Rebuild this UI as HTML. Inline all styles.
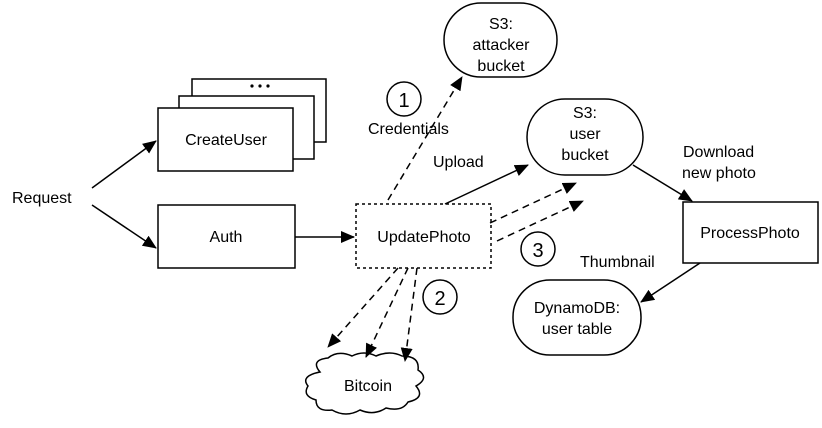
<!DOCTYPE html>
<html><head><style>
body{margin:0;background:#fff;}
svg text{font-family:"Liberation Sans",sans-serif;font-size:16px;fill:#000;}
</style></head><body>
<svg width="822" height="423" viewBox="0 0 822 423" xmlns="http://www.w3.org/2000/svg">
<defs>
<marker id="a" markerWidth="14" markerHeight="12" refX="13" refY="6" orient="auto" markerUnits="userSpaceOnUse">
<path d="M0,0 L14,6 L0,12 z" fill="#000"/></marker>
</defs>
<g fill="#fff" stroke="#000" stroke-width="1.5">
<rect x="192" y="79" width="134" height="63"/>
<rect x="179" y="96" width="135" height="63"/>
<rect x="158" y="108" width="135" height="63"/>
<rect x="158" y="205" width="137" height="63"/>
<rect x="356" y="204" width="135" height="64" stroke-dasharray="3,3"/>
<rect x="444" y="3" width="113" height="74" rx="37"/>
<rect x="527" y="99" width="116" height="76" rx="38"/>
<rect x="683" y="202" width="135" height="61"/>
<rect x="513" y="280" width="128" height="75" rx="37"/>
<circle cx="404" cy="99" r="17"/>
<circle cx="440" cy="297" r="17"/>
<circle cx="538" cy="249" r="17"/>
<path d="M320,372 q-10,-12 8,-14 q10,-8 24,-2 q12,-6 24,0 q14,-6 26,0 q18,0 16,14 q12,8 -2,16 q10,12 -8,16 q-6,10 -22,6 q-12,8 -26,2 q-14,8 -28,0 q-16,2 -16,-10 q-14,-4 -8,-14 q-8,-10 12,-14z"/>
</g>
<g fill="#000"><circle cx="252" cy="86" r="1.6"/><circle cx="260" cy="86" r="1.6"/><circle cx="268" cy="86" r="1.6"/></g>
<g stroke="#000" stroke-width="1.5" fill="none" marker-end="url(#a)">
<line x1="92" y1="188" x2="156" y2="141"/>
<line x1="92" y1="205" x2="156" y2="248"/>
<line x1="295" y1="237" x2="354" y2="237"/>
<line x1="445" y1="204" x2="528" y2="165"/>
<line x1="633" y1="165" x2="692" y2="201"/>
<line x1="700" y1="263" x2="641" y2="302"/>
<g stroke-dasharray="7,5">
<line x1="388" y1="200" x2="462" y2="77"/>
<line x1="490" y1="223" x2="576" y2="183"/>
<line x1="497" y1="241" x2="583" y2="201"/>
<line x1="398" y1="268" x2="328" y2="347"/>
<line x1="408" y1="268" x2="366" y2="357"/>
<line x1="417" y1="268" x2="405" y2="361"/>
</g>
</g>
<g text-anchor="middle">
<text x="226" y="145">CreateUser</text>
<text x="226" y="242">Auth</text>
<text x="424" y="242">UpdatePhoto</text>
<text x="501" y="29">S3:</text>
<text x="501" y="50">attacker</text>
<text x="501" y="71">bucket</text>
<text x="585" y="118">S3:</text>
<text x="585" y="139">user</text>
<text x="585" y="160">bucket</text>
<text x="750" y="238">ProcessPhoto</text>
<text x="577" y="313">DynamoDB:</text>
<text x="577" y="334">user table</text>
<text x="368" y="391">Bitcoin</text>
<text x="404" y="107" style="font-size:20px">1</text>
<text x="440" y="305" style="font-size:20px">2</text>
<text x="538" y="257" style="font-size:20px">3</text>
</g>
<text x="12" y="203">Request</text>
<text x="368" y="134">Credentials</text>
<text x="433" y="167">Upload</text>
<text x="683" y="157">Download</text>
<text x="682" y="178">new photo</text>
<text x="580" y="267">Thumbnail</text>
</svg>
</body></html>
